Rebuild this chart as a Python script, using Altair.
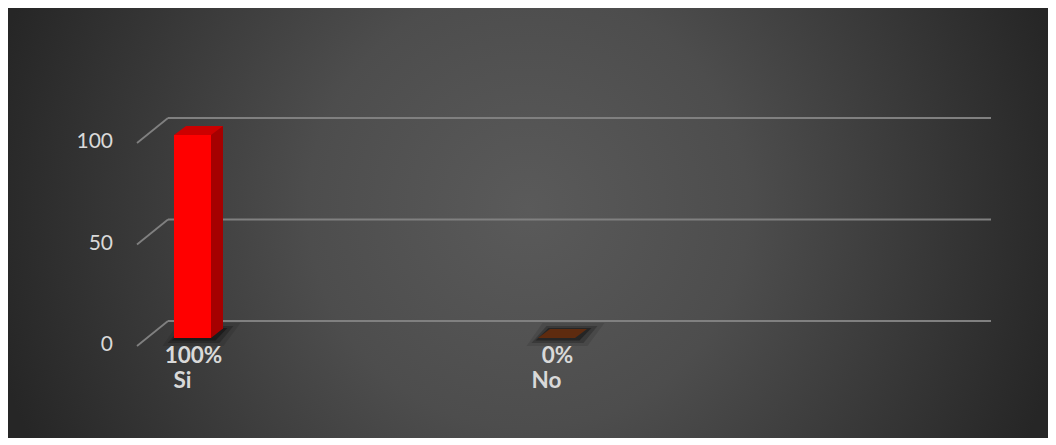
import altair as alt
import pandas as pd

# ---- data ----
categories = ["Si", "No"]
values = [100, 0]
y_ticks = [0, 50, 100]

# ---- styles ----
front_colors = ["#ff0000", "#c55a11"]
side_colors = ["#a50000", "#7a3510"]
top_colors = ["#cc0000", "#5e2b0f"]
LINE_COLOR = "#808080"
LABEL_COLOR = "#d9d9d9"
FONT = "Lato"

W, H = 823, 203

df = pd.DataFrame({"cat": categories, "value": values})
df_ticks = pd.DataFrame({"tick": y_ticks})
df_one = pd.DataFrame({"k": [0]})

xscale = alt.Scale(type="point", domain=categories, range=[24.5, 388.5], padding=0)
yscale = alt.Scale(domain=[0, 100], nice=False, zero=True)

gradient = {
    "gradient": "radial",
    "x1": 0.5, "y1": 0.5, "r1": 0,
    "x2": 0.5, "y2": 0.5, "r2": 0.5,
    "stops": [
        {"offset": 0, "color": "#5a5a5a"},
        {"offset": 0.4, "color": "#4d4d4d"},
        {"offset": 1, "color": "#262626"},
    ],
}

X = alt.X("cat:N", scale=xscale, axis=None)
Y0 = alt.YDatum(0, scale=yscale, axis=None)

bg = alt.Chart(df_one).mark_rect(color=gradient, strokeWidth=0).encode(
    x=alt.value(-190), x2=alt.value(910), y=alt.value(-460), y2=alt.value(640)
)

grid = alt.Chart(df_ticks).mark_rule(color=LINE_COLOR, strokeWidth=2).encode(
    y=alt.Y("tick:Q", scale=yscale, axis=None),
    x=alt.value(0), x2=alt.value(W),
)

diag = alt.Chart(df_ticks).mark_rule(color=LINE_COLOR, strokeWidth=1.8, yOffset=25, y2Offset=0).encode(
    y=alt.Y("tick:Q", scale=yscale, axis=None),
    y2=alt.Y2("tick:Q"),
    x=alt.value(-31), x2=alt.value(0),
)

# y-axis tick labels, on the front plane of the 3-D frame
ylabels = alt.Chart(df_ticks).mark_text(
    font=FONT, fontSize=21, color=LABEL_COLOR, align="right", baseline="middle", dy=24
).encode(
    y=alt.Y("tick:Q", scale=yscale, axis=None),
    x=alt.value(-55),
    text=alt.Text("tick:Q", format="d"),
)

def shadow(path, op):
    return alt.Chart(df).mark_point(shape=path, size=400, filled=True, color="#000000",
                                    opacity=op, strokeWidth=0, yOffset=17).encode(
        x=X, y=Y0
    )

sh1 = shadow("M-3.0,0.8L3.1,0.8L4.8,-1.5L-1.4,-1.5Z", 0.1)
sh2 = shadow("M-2.5,0.5L2.7,0.5L4.1,-1.2L-1.0,-1.2Z", 0.22)
sh3 = shadow("M-2.1,0.25L2.3,0.25L3.5,-1.0L-0.8,-1.0Z", 0.35)

side = alt.Chart(df).mark_bar(size=12, xOffset=24.5, yOffset=8, y2Offset=8).encode(
    x=X,
    y=alt.Y("value:Q", scale=yscale, axis=None),
    y2=alt.Y2Datum(0),
    color=alt.Color("cat:N", scale=alt.Scale(domain=categories, range=side_colors), legend=None),
)

tri = alt.Chart(df).transform_filter("datum.value > 0").mark_point(
    shape="M1.85,0L1.85,-0.95L3.05,-0.95Z", size=400, filled=True, opacity=1,
    strokeWidth=0, yOffset=17).encode(
    x=X, y=Y0,
    color=alt.Color("cat:N", scale=alt.Scale(domain=categories, range=side_colors), legend=None),
)

front = alt.Chart(df).mark_bar(size=37, yOffset=17, y2Offset=17).encode(
    x=X,
    y=alt.Y("value:Q", scale=yscale, axis=None),
    y2=alt.Y2Datum(0),
    color=alt.Color("cat:N", scale=alt.Scale(domain=categories, range=front_colors), legend=None),
)

top = alt.Chart(df).mark_point(
    shape="M-1.85,0L1.85,0L3.05,-0.9L-0.65,-0.9Z", size=400, filled=True, opacity=1,
    strokeWidth=0, yOffset=17).encode(
    x=X,
    y=alt.Y("value:Q", scale=yscale, axis=None),
    color=alt.Color("cat:N", scale=alt.Scale(domain=categories, range=top_colors), legend=None),
)

pct = alt.Chart(df).transform_calculate(label="datum.value + '%'").mark_text(
    font=FONT, fontSize=22.5, fontWeight="bold", color=LABEL_COLOR,
    baseline="alphabetic", align="center", dy=42, dx=1).encode(
    x=X, y=Y0, text="label:N"
)

# category labels (x axis)
xlabels = alt.Chart(df).mark_text(
    font=FONT, fontSize=22.5, fontWeight="bold", color=LABEL_COLOR,
    baseline="alphabetic", align="center", dy=67, dx=-10).encode(
    x=X, y=Y0, text="cat:N"
)

chart = alt.layer(bg, grid, diag, ylabels, sh1, sh2, sh3, side, tri, front, top, pct, xlabels).resolve_scale(
    color="independent"
).properties(
    width=W, height=H,
    padding={"left": 160, "top": 110, "right": 57, "bottom": 117},
    autosize=alt.AutoSizeParams(type="none"),
).configure(background="#262626").configure_view(strokeWidth=0)

chart.save("out.html", embed_options={"renderer": "svg", "actions": False})
